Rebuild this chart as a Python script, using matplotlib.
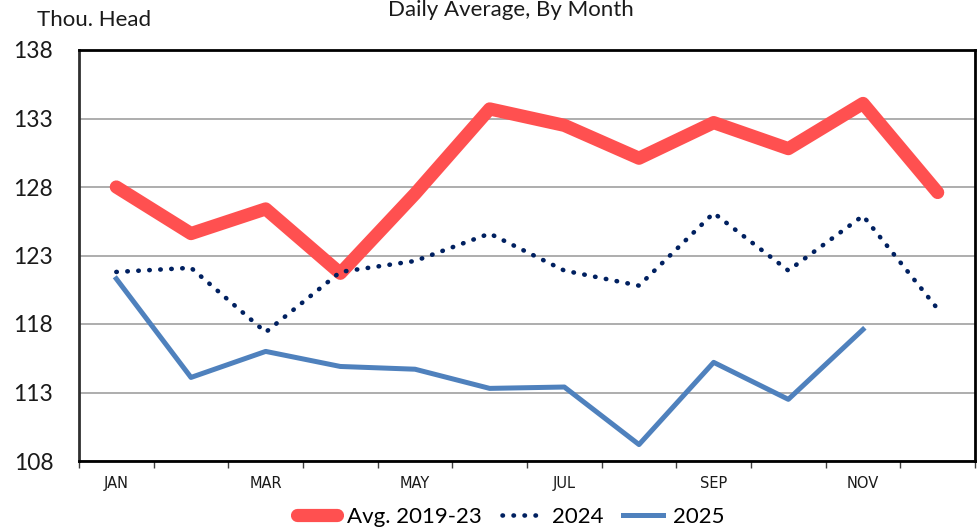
from matplotlib import pyplot as plt
import numpy as np

# dados
meses = ['JAN', 'FEB', 'MAR', 'APR', 'MAY', 'JUN', 'JUL', 'AUG', 'SEP', 'OCT', 'NOV', 'DEC']
avg_2019_23 = [128.0, 124.6, 126.4, 121.7, 127.5, 133.7, 132.5, 130.1, 132.7, 130.8, 134.1, 127.6]
ano_2024 = [121.8, 122.1, 117.4, 121.8, 122.6, 124.6, 121.9, 120.8, 126.1, 121.9, 125.9, 119.1]
ano_2025 = [121.3, 114.1, 116.0, 114.9, 114.7, 113.3, 113.4, 109.2, 115.2, 112.5, 117.6]
y_ticks = [108, 113, 118, 123, 128, 133, 138]

# cores
c_avg = '#FF5050'
c_2024 = '#002060'
c_2025 = '#4F81BD'
gray_txt = '#1A1A1A'

fonte = ['Lato', 'DejaVu Sans']
fonte_estreita = ['Liberation Sans Narrow', 'DejaVu Sans']

fig = plt.figure(figsize=(9.78, 5.32), dpi=100)
ax = fig.add_axes([79 / 978, 1 - 461 / 532, 896 / 978, 411 / 532])

x = np.arange(len(meses))

ax.plot(x, avg_2019_23, color=c_avg, lw=9.5, solid_capstyle='round',
        solid_joinstyle='round', label='Avg. 2019-23', zorder=3)
ax.plot(x, ano_2024, color=c_2024, lw=3.3, ls=(0, (0.1, 2.3)),
        dash_capstyle='round', label='2024', zorder=4)
ax.plot(x[:len(ano_2025)], ano_2025, color=c_2025, lw=3.6,
        solid_joinstyle='round', label='2025', zorder=5)

# limites eixos
ax.set_xlim(-0.5, len(meses) - 0.5)
ax.set_ylim(y_ticks[0], y_ticks[-1])

ax.set_yticks(y_ticks)
ax.set_yticklabels([str(v) for v in y_ticks], family=fonte, fontsize=16.5, color=gray_txt)
ax.yaxis.set_tick_params(length=0, pad=18.5)

# ticks nas fronteiras dos meses, rótulos nos meses ímpares
ax.set_xticks(np.arange(-0.5, len(meses), 1.0))
ax.set_xticklabels([])
ax.xaxis.set_tick_params(which='major', length=5, width=1, direction='out', color='#404040')
ax.set_xticks(x[::2], minor=True)
ax.set_xticklabels(meses[::2], minor=True, family=fonte_estreita, fontsize=10.5, color=gray_txt)
ax.xaxis.set_tick_params(which='minor', length=0, pad=11)

plt.grid(True, 'major', 'y', color='#A0A0A0', lw=1.2)
ax.set_axisbelow(True)

# bordas
for lado in ['left', 'right', 'top', 'bottom']:
    ax.spines[lado].set_linewidth(2)
    ax.spines[lado].set_color('black')
ax.spines['left'].set_color('#303030')

fig.text(511 / 978, 1 - 16 / 532, 'Daily Average, By Month', ha='center', va='baseline',
         family=fonte, fontsize=16, color=gray_txt)
fig.text(37 / 978, 1 - 26 / 532, 'Thou. Head', ha='left', va='baseline',
         family=fonte, fontsize=16, color=gray_txt)

fig.legend(loc='center', bbox_to_anchor=(511 / 978, 1 - 517 / 532), ncol=3, frameon=False,
           prop={'family': fonte, 'size': 16}, handlelength=1.8, handletextpad=0.45,
           columnspacing=0.9, borderaxespad=0)

fig.savefig('out.png', dpi=100)
